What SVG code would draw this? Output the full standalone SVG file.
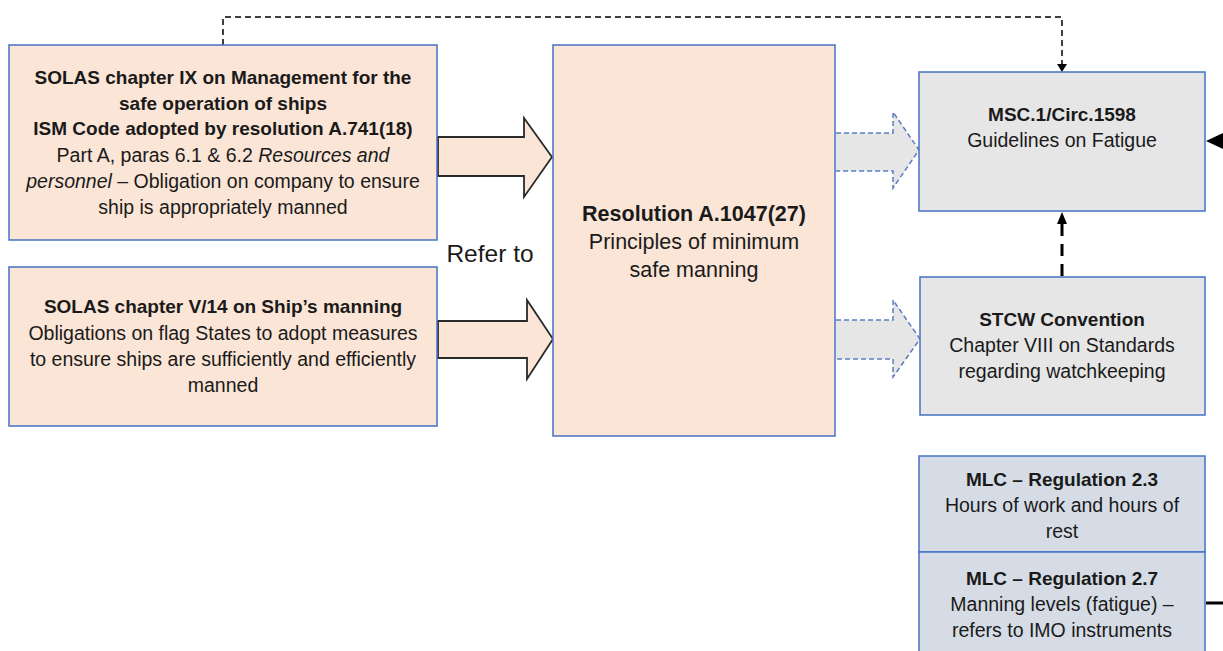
<svg xmlns="http://www.w3.org/2000/svg" width="1223" height="651" viewBox="0 0 1223 651">
<defs>
<style>
.t{font-family:"Liberation Sans",Arial,sans-serif;font-size:19.5px;fill:#1a1a1a;text-anchor:middle}
.b{font-weight:bold;font-size:19px}
.i{font-style:italic}
.c{font-size:21.5px}
.peach{fill:#FBE5D6;stroke:#4472C4;stroke-width:1.5}
.gray{fill:#E6E6E6;stroke:#4472C4;stroke-width:1.5}
.blue{fill:#D6DCE5;stroke:#4472C4;stroke-width:1.5}
.block{fill:#FBE5D6;stroke:#2a2a2a;stroke-width:1.8}
.dblock{fill:#E6E6E6;stroke:#5B7DBE;stroke-width:1.5;stroke-dasharray:5 3}
</style>
</defs>
<rect width="1223" height="651" fill="#fff"/>

<g id="connectors">
<path d="M438,137 H524 V118 L552,157 L524,197 V176 H438 Z" class="block"/>
<path d="M438,321 H527 V300 L553,339 L527,379 V358 H438 Z" class="block"/>
<path d="M836,133 H893 V112 L919,150 L893,188 V171 H836" class="dblock"/>
<path d="M836,320 H893 V300 L920,339 L893,377 V359 H836" class="dblock"/>
<path d="M223,45 V17 H1062 V66" fill="none" stroke="#000" stroke-width="1.5" stroke-dasharray="6 4"/>
<path d="M1057,64 L1067,64 L1062,72 Z" fill="#000"/>
<path d="M1062,276 V222" fill="none" stroke="#000" stroke-width="3" stroke-dasharray="12 8"/>
<path d="M1057,224 L1062,212 L1067,224 Z" fill="#000"/>
<path d="M1206,141 L1223,133 L1223,149 Z" fill="#000"/>
<path d="M1206,603 H1223" stroke="#000" stroke-width="3"/>
<text class="t" x="490" y="262" style="font-size:24.5px">Refer to</text>
</g>

<g id="solas-ix">
<rect x="9" y="45" width="428" height="195" class="peach"/>
<text class="t b" x="223" y="84">SOLAS chapter IX on Management for the</text>
<text class="t b" x="223" y="110">safe operation of ships</text>
<text class="t b" x="223" y="135">ISM Code adopted by resolution A.741(18)</text>
<text class="t" x="223" y="162">Part A, paras 6.1 &amp; 6.2 <tspan class="i">Resources and</tspan></text>
<text class="t" x="223" y="188"><tspan class="i">personnel</tspan> – Obligation on company to ensure</text>
<text class="t" x="223" y="214">ship is appropriately manned</text>
</g>

<g id="solas-v14">
<rect x="9" y="267" width="428" height="159" class="peach"/>
<text class="t b" x="223" y="313">SOLAS chapter V/14 on Ship’s manning</text>
<text class="t" x="223" y="340">Obligations on flag States to adopt measures</text>
<text class="t" x="223" y="366">to ensure ships are sufficiently and efficiently</text>
<text class="t" x="223" y="392">manned</text>
</g>

<g id="resolution">
<rect x="553" y="45" width="282" height="391" class="peach"/>
<text class="t b c" x="694" y="221">Resolution A.1047(27)</text>
<text class="t c" x="694" y="249">Principles of minimum</text>
<text class="t c" x="694" y="277">safe manning</text>
</g>

<g id="msc">
<rect x="919" y="72" width="286" height="139" class="gray"/>
<text class="t b" x="1062" y="121">MSC.1/Circ.1598</text>
<text class="t" x="1062" y="147">Guidelines on Fatigue</text>
</g>

<g id="stcw">
<rect x="920" y="277" width="285" height="138" class="gray"/>
<text class="t b" x="1062" y="326">STCW Convention</text>
<text class="t" x="1062" y="352">Chapter VIII on Standards</text>
<text class="t" x="1062" y="378">regarding watchkeeping</text>
</g>

<g id="mlc23">
<rect x="919" y="456" width="286" height="96" class="blue"/>
<text class="t b" x="1062" y="486">MLC – Regulation 2.3</text>
<text class="t" x="1062" y="512">Hours of work and hours of</text>
<text class="t" x="1062" y="538">rest</text>
</g>

<g id="mlc27">
<rect x="919" y="552" width="286" height="110" class="blue"/>
<text class="t b" x="1062" y="585">MLC – Regulation 2.7</text>
<text class="t" x="1062" y="611">Manning levels (fatigue) –</text>
<text class="t" x="1062" y="637">refers to IMO instruments</text>
</g>
</svg>
